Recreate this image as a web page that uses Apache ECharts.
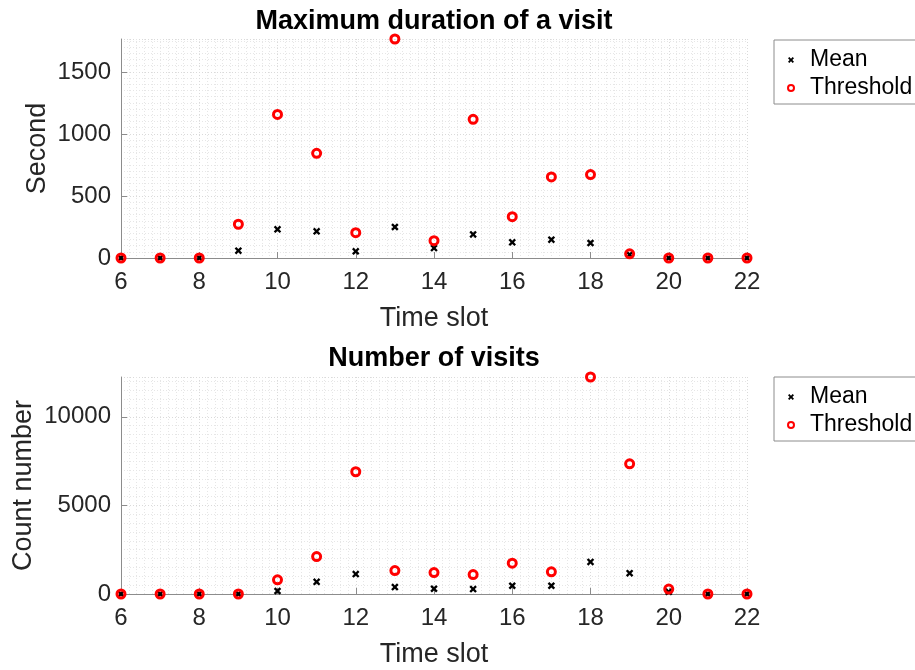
<!DOCTYPE html>
<html>
<head>
<meta charset="utf-8">
<title>Visits per time slot</title>
<script src="https://cdn.jsdelivr.net/npm/echarts@6/dist/echarts.min.js"></script>
<style>
  html, body { margin: 0; padding: 0; background: #ffffff; }
  #chart { width: 915px; height: 670px; }
</style>
</head>
<body>
<div id="chart"></div>
<script>
// Hour-of-day slots shared by both panels
const slots = [6, 7, 8, 9, 10, 11, 12, 13, 14, 15, 16, 17, 18, 19, 20, 21, 22];

// Maximum duration of a visit (seconds)
const durationMean      = [0, 0, 0, 59, 231, 215, 54, 250, 80, 190, 126, 148, 121, 26, 0, 0, 0];
const durationThreshold = [0, 0, 0, 272, 1157, 844, 204, 1765, 140, 1118, 333, 653, 672, 34, 0, 0, 0];

// Number of visits (counts)
const visitsMean      = [0, 0, 0, 0, 168, 690, 1122, 393, 297, 280, 466, 466, 1813, 1178, 120, 0, 0];
const visitsThreshold = [0, 0, 0, 0, 802, 2110, 6902, 1324, 1212, 1100, 1740, 1251, 12250, 7351, 280, 0, 0];

const titles = ['Maximum duration of a visit', 'Number of visits'];
const yNames = ['Second', 'Count number'];
const xName = 'Time slot';
const seriesNames = ['Mean', 'Threshold'];

const pairs = (ys) => slots.map((x, i) => [x, ys[i]]);

// thick "x" marker as a filled polygon
const crossSymbol = 'path://M0,2.2L2.2,0L5,2.8L7.8,0L10,2.2L7.2,5L10,7.8L7.8,10L5,7.2L2.2,10L0,7.8L2.8,5Z';

const FONT = '"Liberation Sans", Arial, Helvetica, sans-serif';
const AXIS_GREY = '#8c8c8c';
const TEXT_GREY = '#262626';
const plainNumber = (v) => String(v);

function xAxisFor(gridIndex) {
  return {
    type: 'value', gridIndex: gridIndex,
    min: 6, max: 22, interval: 2,
    name: xName, nameLocation: 'middle', nameGap: 47,
    nameTextStyle: { fontFamily: FONT, fontSize: 27, color: TEXT_GREY },
    axisLine: { show: true, onZero: false, lineStyle: { color: AXIS_GREY, width: 1 } },
    axisTick: { show: true, inside: true, length: 6, lineStyle: { color: AXIS_GREY } },
    axisLabel: { fontFamily: FONT, fontSize: 24, color: TEXT_GREY, margin: 12, formatter: plainNumber },
    splitLine: { show: true, lineStyle: { color: '#dadada', type: [1, 2], width: 1 } },
    minorTick: { show: false, splitNumber: 10 },
    minorSplitLine: { show: true, lineStyle: { color: '#e6e6e6', type: [1, 2], width: 1 } }
  };
}

function yAxisFor(gridIndex, interval, name, nameGap) {
  return {
    type: 'value', gridIndex: gridIndex,
    min: 0, max: (v) => v.max, interval: interval,
    name: name, nameLocation: 'middle', nameGap: nameGap, nameMoveOverlap: false,
    nameTextStyle: { fontFamily: FONT, fontSize: 27, color: TEXT_GREY },
    axisLine: { show: true, lineStyle: { color: AXIS_GREY, width: 1 } },
    axisTick: { show: true, inside: true, length: 6, lineStyle: { color: AXIS_GREY } },
    axisLabel: { fontFamily: FONT, fontSize: 24, color: TEXT_GREY, margin: 10, showMaxLabel: false, formatter: plainNumber },
    splitLine: { show: true, lineStyle: { color: '#dadada', type: [1, 2], width: 1 } },
    minorTick: { show: false, splitNumber: 10 },
    minorSplitLine: { show: true, lineStyle: { color: '#e6e6e6', type: [1, 2], width: 1 } }
  };
}

function meanSeries(idx, ys) {
  return {
    name: seriesNames[0], type: 'scatter', xAxisIndex: idx, yAxisIndex: idx,
    data: pairs(ys), symbol: crossSymbol, symbolSize: 7.5,
    itemStyle: { color: '#000000', opacity: 1 }, clip: false, z: 3,
    emphasis: { disabled: true }
  };
}

function thresholdSeries(idx, ys) {
  return {
    name: seriesNames[1], type: 'scatter', xAxisIndex: idx, yAxisIndex: idx,
    data: pairs(ys), symbol: 'circle', symbolSize: 8,
    itemStyle: { color: 'rgba(255,255,255,0)', borderColor: '#ff0000', borderWidth: 3, opacity: 1 },
    clip: false, z: 4,
    emphasis: { disabled: true }
  };
}

function legendAt(top) {
  return {
    data: seriesNames, orient: 'vertical', left: 774, top: top,
    padding: [8, 30, 4, 13], itemGap: 4,
    itemWidth: 28, itemHeight: 6,
    borderColor: '#8c8c8c', borderWidth: 1, backgroundColor: '#ffffff',
    textStyle: { fontFamily: FONT, fontSize: 23, color: '#000000', lineHeight: 24 },
    selectedMode: false
  };
}

const chart = echarts.init(document.getElementById('chart'), null, { renderer: 'canvas' });
chart.setOption({
  backgroundColor: '#ffffff',
  animation: false,
  title: [
    { text: titles[0], left: 434, top: 8, textAlign: 'center', padding: 0,
      textStyle: { fontFamily: FONT, fontSize: 27, fontWeight: 'bold', color: '#000000' } },
    { text: titles[1], left: 434, top: 345, textAlign: 'center', padding: 0,
      textStyle: { fontFamily: FONT, fontSize: 27, fontWeight: 'bold', color: '#000000' } }
  ],
  legend: [legendAt(40), legendAt(377)],
  grid: [
    { left: 121, width: 626, top: 39, height: 219, outerBoundsMode: 'none', containLabel: false },
    { left: 121, width: 626, top: 377, height: 217, outerBoundsMode: 'none', containLabel: false }
  ],
  xAxis: [xAxisFor(0), xAxisFor(1)],
  yAxis: [yAxisFor(0, 500, yNames[0], 70), yAxisFor(1, 5000, yNames[1], 84)],
  series: [
    meanSeries(0, durationMean), thresholdSeries(0, durationThreshold),
    meanSeries(1, visitsMean), thresholdSeries(1, visitsThreshold)
  ]
});
</script>
</body>
</html>
